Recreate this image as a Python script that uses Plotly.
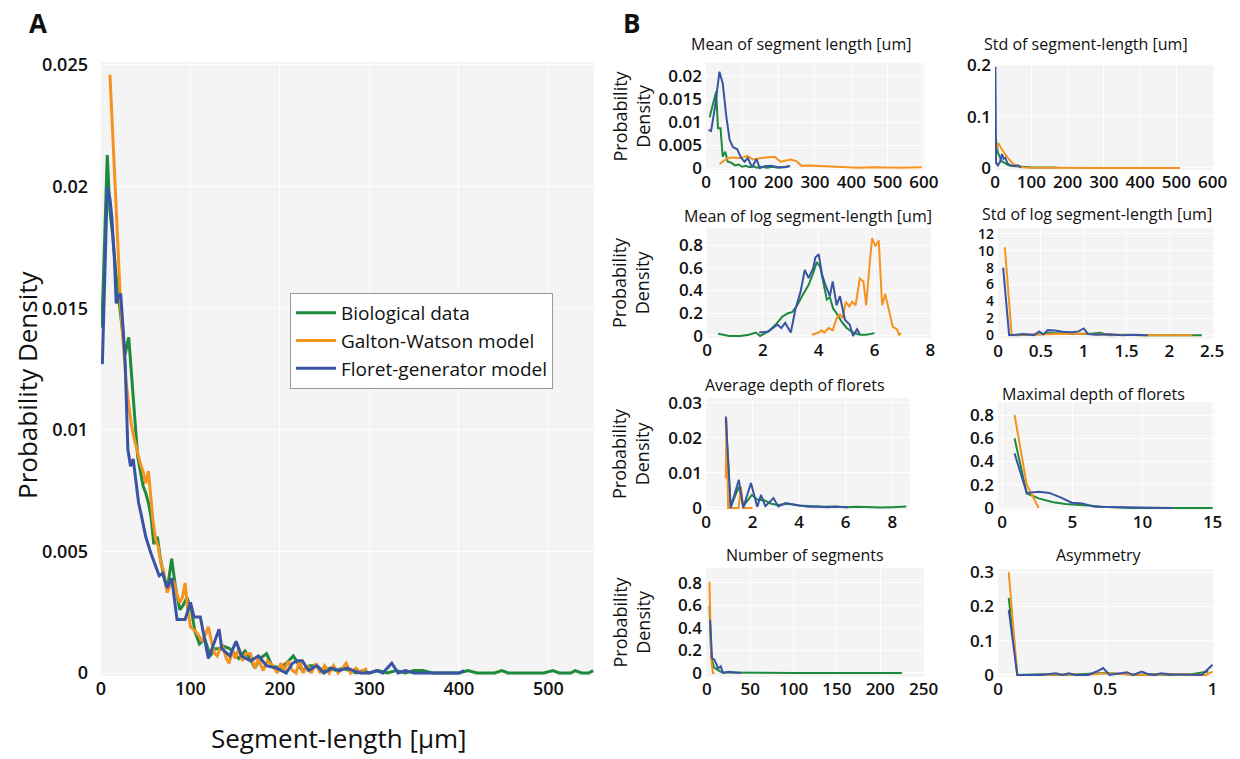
import plotly.graph_objects as go

# ---------------- DATA ----------------
series_names = ["Biological data", "Galton-Watson model", "Floret-generator model"]
colors = ["#1d8a3c", "#f6921e", "#3a54a4"]

# Panel A: segment-length distribution
a_bio_x = [1, 7, 10, 13, 17, 21, 25, 27, 31, 35, 38, 41, 44, 47, 50, 53, 56, 59, 63, 66, 70, 74, 79, 83, 88,
           92, 96, 101, 105, 110, 116, 122, 127, 132, 137, 144, 149, 154, 161, 168, 172, 178, 185, 191, 200,
           207, 215, 220, 225, 233, 241, 248, 256, 263, 270, 278, 285, 293, 300, 310, 320, 330, 340, 350, 360,
           370, 380, 400, 410, 420, 440, 448, 455, 495, 505, 512, 525, 530, 537, 545, 550]
a_bio_y = [0.0142, 0.0213, 0.0190, 0.0180, 0.0163, 0.0150, 0.0135, 0.0131, 0.0138, 0.0118, 0.0100, 0.0089,
           0.0083, 0.0077, 0.0074, 0.0070, 0.0064, 0.0053, 0.0056, 0.0048, 0.0040, 0.0034, 0.0047, 0.0036,
           0.0026, 0.0028, 0.0031, 0.0026, 0.0017, 0.0012, 0.0014, 0.0007, 0.0010, 0.0010, 0.0011, 0.0010,
           0.0008, 0.0006, 0.0009, 0.0005, 0.0002, 0.0006, 0.0008, 0.0003, 0.0002, 0.0004, 0.0007, 0.0004,
           0.0001, 0.0003, 0.0003, 0.0001, 0.0002, 0.0001, 0.0002, 0.0001, 0.0000, 0.0001, 0.0000, 0.0001,
           0.0000, 0.0001, 0.0000, 0.0001, 0.0001, 0.0000, 0.0000, 0.0000, 0.0001, 0.0000, 0.0000, 0.0001,
           0.0000, 0.0000, 0.0001, 0.0000, 0.0000, 0.0001, 0.0000, 0.0000, 0.0001]
a_gw_x = [10, 13, 16, 19, 22, 25, 28, 31, 34, 38, 41, 44, 47, 50, 53, 55, 58, 61, 64, 67, 70, 74, 77, 81, 85,
          88, 91, 94, 97, 100, 103, 106, 110, 113, 117, 120, 124, 127, 130, 133, 136, 140, 143, 147, 150, 154,
          158, 162, 167, 172, 176, 181, 186, 192, 197, 201, 205, 209, 214, 218, 222, 226, 231, 235, 240, 245,
          250, 255, 260, 265, 270, 274, 279, 285, 290, 297]
a_gw_y = [0.0246, 0.0220, 0.0195, 0.0175, 0.0150, 0.0135, 0.0120, 0.0110, 0.0102, 0.0095, 0.0090, 0.0086,
          0.0083, 0.0078, 0.0083, 0.0075, 0.0063, 0.0055, 0.0052, 0.0045, 0.0042, 0.0033, 0.0036, 0.0038,
          0.0032, 0.0029, 0.0031, 0.0037, 0.0026, 0.0019, 0.0018, 0.0017, 0.0015, 0.0013, 0.0016, 0.0019,
          0.0012, 0.0008, 0.0007, 0.0010, 0.0011, 0.0006, 0.0004, 0.0009, 0.0006, 0.0010, 0.0005, 0.0008,
          0.0008, 0.0002, 0.0006, 0.0001, 0.0005, 0.0003, 0.0000, 0.0004, 0.0001, 0.0005, 0.0001, 0.0000,
          0.0005, 0.0000, 0.0003, 0.0000, 0.0004, 0.0000, 0.0003, 0.0000, 0.0003, 0.0000, 0.0002, 0.0004,
          0.0000, 0.0002, 0.0000, 0.0002]
a_fl_x = [1.5, 7, 10, 12, 15, 17, 20, 22, 25, 27, 30, 33, 36, 39, 42, 45, 50, 56, 61, 65, 69, 74, 79, 85, 94,
          100, 104, 111, 120, 126, 132, 135, 144, 151, 157, 167, 176, 185, 196, 207, 214, 219, 225, 232, 241,
          249, 258, 266, 275, 282, 290, 300, 308, 315, 325, 332, 340, 350, 360, 380, 400, 406]
a_fl_y = [0.0127, 0.0200, 0.0195, 0.0188, 0.0170, 0.0152, 0.0155, 0.0156, 0.0140, 0.0128, 0.0092, 0.0085,
          0.0088, 0.0080, 0.0070, 0.0065, 0.0056, 0.0049, 0.0044, 0.0040, 0.0041, 0.0035, 0.0039, 0.0022,
          0.0022, 0.0029, 0.0023, 0.0023, 0.0006, 0.0012, 0.0018, 0.0010, 0.0007, 0.0013, 0.0007, 0.0005,
          0.0007, 0.0003, 0.0002, 0.0000, 0.0004, 0.0005, 0.0005, 0.0001, 0.0003, 0.0000, 0.0002, 0.0001,
          0.0002, 0.0001, 0.0000, 0.0000, 0.0001, 0.0000, 0.0004, 0.0000, 0.0001, 0.0000, 0.0000, 0.0000,
          0.0000, 0.0001]
a_xticks = [0, 100, 200, 300, 400, 500]
a_yticks = [0, 0.005, 0.01, 0.015, 0.02, 0.025]
a_yticktext = ["0", "0.005", "0.01", "0.015", "0.02", "0.025"]

# Panel B subplots
b_titles = ["Mean of segment length [um]", "Std of segment-length [um]",
            "Mean of log segment-length [um]", "Std of log segment-length [um]",
            "Average depth of florets", "Maximal depth of florets",
            "Number of segments", "Asymmetry"]

# 1 Mean of segment length
b1_bio_x = [10, 19, 28, 33, 40, 46, 53, 60, 69, 80, 90, 100, 110, 120, 130, 140, 150, 160, 170, 180, 190, 200, 210, 220, 231]
b1_bio_y = [0.0111, 0.0141, 0.0167, 0.0087, 0.0087, 0.0025, 0.0036, 0.0014, 0.0012, 0.0006, 0.0008, 0.0003, 0.0005,
            0.0002, 0.0004, 0.0001, 0.0003, 0.0002, 0.0001, 0.0003, 0.0002, 0.0001, 0.0002, 0.0003, 0.0004]
b1_gw_x = [37, 50, 60, 75, 88, 100, 114, 129, 140, 152, 170, 189, 205, 220, 234, 250, 263, 285, 309, 336, 360, 382, 420, 460, 500, 540, 594]
b1_gw_y = [0.0009, 0.0016, 0.0022, 0.0023, 0.0022, 0.0023, 0.0027, 0.0019, 0.0021, 0.0022, 0.0024, 0.0025, 0.0014,
           0.0016, 0.0019, 0.0015, 0.0005, 0.0006, 0.0005, 0.0003, 0.0003, 0.0002, 0.0001, 0.0002, 0.0001, 0.0001, 0.0002]
b1_fl_x = [7, 14, 25, 37, 46, 56, 65, 74, 86, 97, 106, 115, 127, 139, 148, 161, 180, 198, 217, 231]
b1_fl_y = [0.0083, 0.0081, 0.0134, 0.0210, 0.0185, 0.0112, 0.0062, 0.0046, 0.0041, 0.0022, 0.0014, 0.0022, 0.0002,
           0.0020, 0.0000, 0.0004, 0.0005, 0.0002, 0.0002, 0.0005]
b1_xticks = [0, 100, 200, 300, 400, 500, 600]
b1_yticks = [0, 0.005, 0.01, 0.015, 0.02]
b1_yticktext = ["0", "0.005", "0.01", "0.015", "0.02"]

# 2 Std of segment-length
b2_bio_x = [2, 8, 14, 20, 27, 35, 45, 60, 80, 100, 125, 150, 170]
b2_bio_y = [0.058, 0.030, 0.020, 0.012, 0.010, 0.006, 0.004, 0.003, 0.002, 0.001, 0.001, 0.0005, 0.001]
b2_gw_x = [2, 9, 20, 35, 50, 63, 80, 120, 170, 250, 350, 450, 510]
b2_gw_y = [0.032, 0.048, 0.035, 0.020, 0.008, 0.003, 0.001, 0.0005, 0.001, 0.0, 0.0, 0.0, 0.0]
b2_fl_x = [1, 3, 8, 14, 19, 24, 28, 35, 45, 55, 63, 72]
b2_fl_y = [0.197, 0.010, 0.005, 0.012, 0.027, 0.018, 0.020, 0.008, 0.005, 0.004, 0.005, 0.001]
b2_xticks = [0, 100, 200, 300, 400, 500, 600]
b2_yticks = [0, 0.1, 0.2]
b2_yticktext = ["0", "0.1", "0.2"]

# 3 Mean of log segment-length
b3_bio_x = [0.4, 0.8, 1.2, 1.5, 1.75, 1.9, 2.2, 2.46, 2.7, 2.9, 3.05, 3.23, 3.4, 3.64, 3.82, 3.93, 4.05, 4.17,
            4.29, 4.4, 4.52, 4.64, 4.82, 5.0, 5.23, 5.47, 5.7, 6.0]
b3_bio_y = [0.02, 0.0, 0.0, 0.01, 0.03, 0.0, 0.04, 0.10, 0.17, 0.20, 0.21, 0.27, 0.35, 0.45, 0.565, 0.65, 0.61,
            0.46, 0.32, 0.34, 0.24, 0.20, 0.125, 0.07, 0.03, 0.01, 0.01, 0.025]
b3_gw_x = [3.76, 4.0, 4.1, 4.2, 4.35, 4.5, 4.64, 4.76, 4.85, 4.97, 5.09, 5.2, 5.32, 5.47, 5.6, 5.7, 5.82, 5.91,
           6.03, 6.15, 6.27, 6.38, 6.53, 6.65, 6.8, 6.88, 6.95]
b3_gw_y = [0.01, 0.03, 0.05, 0.03, 0.07, 0.05, 0.155, 0.19, 0.155, 0.30, 0.26, 0.30, 0.27, 0.505, 0.48, 0.27,
           0.625, 0.86, 0.79, 0.84, 0.27, 0.37, 0.21, 0.08, 0.06, 0.01, 0.025]
b3_fl_x = [1.87, 2.2, 2.52, 2.66, 2.8, 3.0, 3.17, 3.35, 3.5, 3.64, 3.8, 3.88, 4.0, 4.12, 4.24, 4.4, 4.5, 4.64,
           4.76, 4.94, 5.11, 5.23, 5.37, 5.47]
b3_fl_y = [0.03, 0.04, 0.10, 0.07, 0.115, 0.03, 0.24, 0.39, 0.58, 0.51, 0.595, 0.69, 0.72, 0.54, 0.45, 0.35,
           0.48, 0.27, 0.35, 0.14, 0.10, 0.0, 0.06, 0.02]
b3_xticks = [0, 2, 4, 6, 8]
b3_yticks = [0, 0.2, 0.4, 0.6, 0.8]
b3_yticktext = ["0", "0.2", "0.4", "0.6", "0.8"]

# 4 Std of log segment-length
b4_bio_x = [0.2, 0.35, 0.5, 0.58, 0.7, 0.85, 1.0, 1.1, 1.19, 1.3, 1.5, 1.7, 1.9, 2.1, 2.38]
b4_bio_y = [0.0, 0.05, 0.1, 0.25, 0.2, 0.2, 0.15, 0.2, 0.3, 0.0, 0.05, 0.0, 0.0, 0.0, 0.0]
b4_gw_x = [0.08, 0.16, 0.3, 0.5, 0.7, 0.9, 1.0, 1.1, 1.3, 1.5, 1.7, 1.9, 2.1, 2.27]
b4_gw_y = [10.4, 0.0, 0.05, 0.1, 0.1, 0.15, 0.2, 0.1, 0.05, 0.0, 0.0, 0.0, 0.0, 0.0]
b4_fl_x = [0.06, 0.13, 0.2, 0.3, 0.42, 0.48, 0.53, 0.58, 0.66, 0.76, 0.86, 0.94, 1.0, 1.05, 1.15, 1.3, 1.45, 1.6, 1.75]
b4_fl_y = [8.0, 0.0, 0.05, 0.15, 0.0, 0.45, 0.1, 0.6, 0.55, 0.4, 0.35, 0.45, 0.8, 0.15, 0.05, 0.1, 0.0, 0.05, 0.0]
b4_xticks = [0, 0.5, 1, 1.5, 2, 2.5]
b4_yticks = [0, 2, 4, 6, 8, 10, 12]
b4_yticktext = ["0", "2", "4", "6", "8", "10", "12"]

# 5 Average depth of florets
b5_bio_x = [0.85, 1.06, 1.41, 1.6, 1.97, 2.2, 2.5, 2.8, 3.1, 3.5, 4.0, 4.5, 5.0, 5.5, 6.0, 6.5, 7.0, 7.5, 8.0, 8.6]
b5_bio_y = [0.025, 0.0003, 0.006, 0.0005, 0.0037, 0.0024, 0.0022, 0.0012, 0.0008, 0.0012, 0.0007, 0.0005,
            0.0003, 0.0004, 0.0002, 0.0003, 0.0001, 0.0001, 0.0002, 0.0004]
b5_gw_x = [0.85, 0.88, 0.95, 1.4, 1.5, 1.6, 2.0]
b5_gw_y = [0.0085, 0.0256, 0.0, 0.0, 0.006, 0.0, 0.0]
b5_fl_x = [0.85, 1.06, 1.41, 1.6, 1.93, 2.2, 2.36, 2.55, 2.9, 3.1, 3.42, 3.7, 4.0, 4.4, 4.8, 5.2, 5.6, 6.1]
b5_fl_y = [0.0261, 0.0, 0.008, 0.0, 0.0071, 0.0003, 0.0037, 0.0005, 0.0028, 0.0004, 0.0014, 0.001, 0.0007,
           0.0003, 0.0004, 0.0002, 0.0003, 0.0002]
b5_xticks = [0, 2, 4, 6, 8]
b5_yticks = [0, 0.01, 0.02, 0.03]
b5_yticktext = ["0", "0.01", "0.02", "0.03"]

# 6 Maximal depth of florets
b6_bio_x = [0.88, 1.75, 2.6, 3.64, 4.5, 5.1, 5.7, 6.4, 7.1, 8.0, 9.2, 10.5, 12, 13.5, 15]
b6_bio_y = [0.60, 0.125, 0.083, 0.05, 0.035, 0.03, 0.03, 0.02, 0.01, 0.005, 0.0, 0.0, 0.0, 0.0, 0.0]
b6_gw_x = [0.88, 1.75, 2.6]
b6_gw_y = [0.80, 0.20, 0.0]
b6_fl_x = [0.88, 1.75, 2.6, 3.36, 4.2, 4.96, 5.7, 6.6, 7.5, 8.5, 10, 12.1]
b6_fl_y = [0.47, 0.13, 0.14, 0.13, 0.09, 0.046, 0.04, 0.01, 0.008, 0.005, 0.002, 0.0]
b6_xticks = [0, 5, 10, 15]
b6_yticks = [0, 0.2, 0.4, 0.6, 0.8]
b6_yticktext = ["0", "0.2", "0.4", "0.6", "0.8"]

# 7 Number of segments
b7_bio_x = [3, 5, 8, 12, 16, 20, 30, 40, 60, 100, 150, 200, 225]
b7_bio_y = [0.60, 0.15, 0.05, 0.03, 0.01, 0.003, 0.002, 0.0, 0.0, 0.0, 0.0, 0.0, 0.0]
b7_gw_x = [3, 5, 7, 9]
b7_gw_y = [0.81, 0.12, 0.0, 0.0]
b7_fl_x = [3.7, 6, 8.5, 13, 16, 18.5, 25, 32, 39]
b7_fl_y = [0.47, 0.13, 0.12, 0.04, 0.06, 0.0, 0.01, 0.005, 0.0]
b7_xticks = [0, 50, 100, 150, 200, 250]
b7_yticks = [0, 0.2, 0.4, 0.6, 0.8]
b7_yticktext = ["0", "0.2", "0.4", "0.6", "0.8"]

# 8 Asymmetry
b8_bio_x = [0.05, 0.09, 0.2, 0.3, 0.4, 0.5, 0.6, 0.65, 0.7, 0.8, 0.9, 0.98]
b8_bio_y = [0.225, 0.0, 0.002, 0.0, 0.003, 0.006, 0.002, 0.0, 0.003, 0.0, 0.002, 0.01]
b8_gw_x = [0.05, 0.09, 0.2, 0.3, 0.4, 0.5, 0.6, 0.7, 0.8, 0.9, 0.97, 1.0]
b8_gw_y = [0.30, 0.0, 0.0, 0.002, 0.0, 0.005, 0.002, 0.0, 0.003, 0.0, 0.0, 0.01]
b8_fl_x = [0.05, 0.09, 0.2, 0.27, 0.3, 0.33, 0.36, 0.42, 0.46, 0.49, 0.52, 0.56, 0.6, 0.63, 0.67, 0.7, 0.73,
           0.76, 0.8, 0.95, 1.0]
b8_fl_y = [0.19, 0.0, 0.0, 0.005, 0.0, 0.005, 0.0, 0.0, 0.01, 0.02, 0.0, 0.003, 0.008, 0.0, 0.01, 0.002, 0.0,
           0.005, 0.002, 0.0, 0.03]
b8_xticks = [0, 0.5, 1]
b8_xticktext = ["0", "0.5", "1"]
b8_yticks = [0, 0.1, 0.2, 0.3]
b8_yticktext = ["0", "0.1", "0.2", "0.3"]

# ---------------- LAYOUT HELPERS ----------------
W, H = 1240, 759
FONT = "Open Sans"
BG = "#f4f4f4"
INK = "#111111"


def dx(left, right):
    return [left / W, right / W]


def dy(top, bottom):
    return [1 - bottom / H, 1 - top / H]


fig = go.Figure()

# Panel A
for name, col, xs, ys in zip(series_names, colors, [a_bio_x, a_gw_x, a_fl_x], [a_bio_y, a_gw_y, a_fl_y]):
    fig.add_trace(go.Scatter(x=xs, y=ys, mode="lines", name=name, line=dict(color=col, width=3),
                             xaxis="x", yaxis="y", showlegend=True))

axis_common = dict(showgrid=True, gridcolor="white", gridwidth=1, zeroline=False, showline=False,
                   ticks="", color=INK, automargin=False)

layout = dict(
    width=W, height=H, margin=dict(l=0, r=0, t=0, b=0, autoexpand=False),
    paper_bgcolor="white", plot_bgcolor=BG,
    font=dict(family=FONT, color=INK),
    xaxis=dict(domain=dx(101, 594), anchor="y", range=[0, 551], tickvals=a_xticks,
               tickfont=dict(size=18, weight=600), **axis_common),
    yaxis=dict(domain=dy(62, 676), anchor="x", range=[-0.000123, 0.025123], tickvals=a_yticks,
               ticktext=a_yticktext, tickfont=dict(size=18, weight=600), ticklabelstandoff=12, **axis_common),
    legend=dict(x=290 / W, y=1 - 293 / H, xanchor="left", yanchor="top", bgcolor="white",
                bordercolor="#9a9a9a", borderwidth=1, font=dict(size=19, family=FONT, color=INK),
                tracegroupgap=0, itemwidth=40),
)

# Panel B definitions
b_specs = [
    ([b1_bio_x, b1_gw_x, b1_fl_x], [b1_bio_y, b1_gw_y, b1_fl_y], (706, 925), (63, 170), [0, 603], [-0.0004, 0.0229],
     b1_xticks, None, b1_yticks, b1_yticktext, (801, 44), 17),
    ([b2_bio_x, b2_gw_x, b2_fl_x], [b2_bio_y, b2_gw_y, b2_fl_y], (995, 1213), (65, 170), [0, 601], [-0.004, 0.2005],
     b2_xticks, None, b2_yticks, b2_yticktext, (1086, 44), 17),
    ([b3_bio_x, b3_gw_x, b3_fl_x], [b3_bio_y, b3_gw_y, b3_fl_y], (707, 931), (228, 338), [0, 8.02], [-0.018, 0.95],
     b3_xticks, None, b3_yticks, b3_yticktext, (808, 216), 17),
    ([b4_bio_x, b4_gw_x, b4_fl_x], [b4_bio_y, b4_gw_y, b4_fl_y], (998, 1213), (228, 339), [0, 2.51], [-0.45, 12.7],
     b4_xticks, None, b4_yticks, b4_yticktext, (1097, 214), 14),
    ([b5_bio_x, b5_gw_x, b5_fl_x], [b5_bio_y, b5_gw_y, b5_fl_y], (706, 910), (398, 510), [0, 8.76], [-0.0006, 0.0314],
     b5_xticks, None, b5_yticks, b5_yticktext, (795, 385), 17),
    ([b6_bio_x, b6_gw_x, b6_fl_x], [b6_bio_y, b6_gw_y, b6_fl_y], (998, 1214), (402, 510), [-0.3, 15.1], [-0.017, 0.912],
     b6_xticks, None, b6_yticks, b6_yticktext, (1093, 394), 17),
    ([b7_bio_x, b7_gw_x, b7_fl_x], [b7_bio_y, b7_gw_y, b7_fl_y], (706, 924), (568, 677), [-1, 250.5], [-0.036, 0.933],
     b7_xticks, None, b7_yticks, b7_yticktext, (805, 555), 17),
    ([b8_bio_x, b8_gw_x, b8_fl_x], [b8_bio_y, b8_gw_y, b8_fl_y], (998, 1213), (569, 677), [0, 1.002], [-0.006, 0.309],
     b8_xticks, b8_xticktext, b8_yticks, b8_yticktext, (1099, 555), 17),
]

annotations = []
for i, (xs_list, ys_list, xd, yd, xr, yr, xt, xtt, yt, ytt, tpos, ysz) in enumerate(b_specs):
    n = i + 2
    xa, ya = f"x{n}", f"y{n}"
    for col, xs, ys in zip(colors, xs_list, ys_list):
        fig.add_trace(go.Scatter(x=xs, y=ys, mode="lines", line=dict(color=col, width=2),
                                 xaxis=xa, yaxis=ya, showlegend=False))
    xdict = dict(domain=dx(*xd), anchor=ya, range=xr, tickvals=xt, tickfont=dict(size=17, weight=600),
                 **axis_common)
    if xtt is not None:
        xdict["ticktext"] = xtt
    layout[f"xaxis{n}"] = xdict
    layout[f"yaxis{n}"] = dict(domain=dy(*yd), anchor=xa, range=yr, tickvals=yt, ticktext=ytt,
                               tickfont=dict(size=ysz, weight=600), ticklabelstandoff=3, **axis_common)
    annotations.append(dict(text=b_titles[i], x=tpos[0] / W, y=1 - tpos[1] / H, xref="paper", yref="paper",
                            xanchor="center", yanchor="middle", showarrow=False,
                            font=dict(size=16, family=FONT, color=INK)))
    if i % 2 == 0:
        yc = (yd[0] + yd[1]) / 2
        annotations.append(dict(text="Probability<br>Density", x=631 / W, y=1 - yc / H, xref="paper",
                                yref="paper", xanchor="center", yanchor="middle", showarrow=False,
                                textangle=-90, font=dict(size=18, family=FONT, color=INK)))

# Panel A axis titles and panel letters
annotations += [
    dict(text="Probability Density", x=27 / W, y=1 - 385 / H, xref="paper", yref="paper", xanchor="center",
         yanchor="middle", showarrow=False, textangle=-90, font=dict(size=26, family=FONT, color=INK)),
    dict(text="Segment-length [µm]", x=339 / W, y=1 - 738 / H, xref="paper", yref="paper", xanchor="center",
         yanchor="middle", showarrow=False, font=dict(size=26, family=FONT, color=INK)),
    dict(text="<b>A</b>", x=38 / W, y=1 - 23 / H, xref="paper", yref="paper", xanchor="center",
         yanchor="middle", showarrow=False, font=dict(size=26, family=FONT, color=INK)),
    dict(text="<b>B</b>", x=631 / W, y=1 - 23 / H, xref="paper", yref="paper", xanchor="center",
         yanchor="middle", showarrow=False, font=dict(size=26, family=FONT, color=INK)),
]
layout["annotations"] = annotations

fig.update_layout(**layout)
fig.write_html("out.html", config={"displayModeBar": False},
               post_script="document.body.style.margin='0';document.body.style.overflow='hidden';")
